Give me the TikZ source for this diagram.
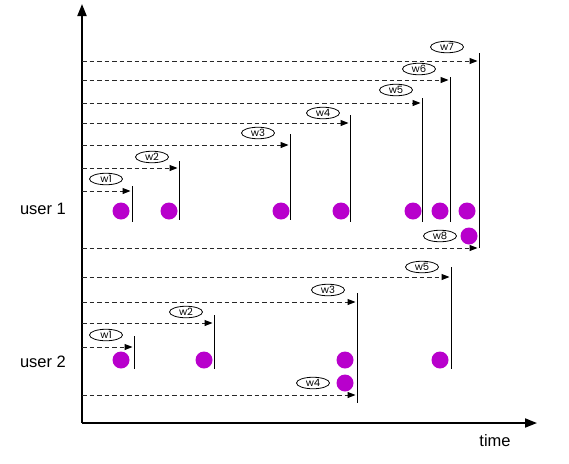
\documentclass[tikz,border=0pt]{standalone}
\usepackage{fontspec}
\setmainfont{Liberation Sans}
\newfontfamily\wfont{Poppins}
\usetikzlibrary{arrows.meta,positioning}
\tikzset{>={Triangle[length=8pt,width=6pt,black]}}
\definecolor{dotpurple}{RGB}{184,0,204}
\definecolor{dashgray}{RGB}{40,40,40}
\tikzset{
  axis/.style={line width=1.8pt, -{Triangle[length=12pt,width=9pt]}},
  write/.style={dashgray, dash pattern=on 4.5pt off 3pt, line width=1pt, ->},
  ack/.style={line width=0.8pt},
  wlabel/.style={draw, ellipse, line width=0.8pt, inner sep=0pt, minimum width=33pt, minimum height=11.5pt, font=\wfont\fontsize{10}{10}\selectfont},
  event/.style={circle, fill=dotpurple, inner sep=0pt, minimum size=17pt},
  user/.style={font=\fontsize{16.5}{16.5}\selectfont}
}
\usetikzlibrary{shapes.geometric}
\begin{document}
\begin{tikzpicture}[x=1pt,y=-1pt]
  \useasboundingbox (0,0) rectangle (569,463);
  % axes
  \coordinate (o) at (82,423);
  \coordinate (ytop) at (82,4);
  \coordinate (xend) at (537,423);
  \draw[axis] (o) -- (ytop);
  \draw[axis] (o) -- (xend);
  \node[user] (time) at (495,441) {time};
  \node[user] (u1) at (43,209) {user 1};
  \node[user] (u2) at (43,362) {user 2};
  % user 1 writes: name/y/ack x/ack top/ack bottom/label x/label y
  \foreach \n/\y/\v/\t/\b/\lx/\ly in {w1/191/132/186/222/106/179, w2/168/179/161/220/152/157,
      w3/145/290/134/220/258/133, w4/123/350/115/222/323/113, w5/103/422/98/222/396/90,
      w6/80/450/77/222/419/69, w7/61/479/53/248/447/47}{
    \coordinate (a\n) at (82,\y);
    \coordinate (b\n) at (\v-1.5,\y);
    \coordinate (t\n) at (\v,\t);
    \coordinate (f\n) at (\v,\b);
    \draw[write] (a\n) -- (b\n);
    \draw[ack] (t\n) -- (f\n);
    \node[wlabel] (l\n) at (\lx,\ly) {\n};
  }
  \coordinate (aw8) at (82,248);
  \coordinate (bw8) at (477.5,248);
  \draw[write] (aw8) -- (bw8);
  \node[wlabel] (lw8) at (440,236) {w8};
  % user 2 writes
  \foreach \n/\y/\v/\t/\b/\lx/\ly in {w1/347/134/336/369/106/335, w2/323/214/315/369/186/312,
      w3/302/357/293/403/328/290, w5/277/451/267/369/422/267}{
    \coordinate (c\n) at (82,\y);
    \coordinate (d\n) at (\v-1.5,\y);
    \coordinate (g\n) at (\v,\t);
    \coordinate (h\n) at (\v,\b);
    \draw[write] (c\n) -- (d\n);
    \draw[ack] (g\n) -- (h\n);
    \node[wlabel] (m\n) at (\lx,\ly) {\n};
  }
  \coordinate (cw4) at (82,395);
  \coordinate (dw4) at (355.5,395);
  \draw[write] (cw4) -- (dw4);
  \node[wlabel] (mw4) at (313,383) {w4};
  % events
  \foreach \x [count=\i] in {121,169,281,341,413,440,467}
    \node[event] (e\i) at (\x,211) {};
  \node[event] (e8) at (469,236) {};
  \foreach \x [count=\i] in {121,204,345,440}
    \node[event] (k\i) at (\x,360) {};
  \node[event] (k5) at (345,383) {};
\end{tikzpicture}
\end{document}
